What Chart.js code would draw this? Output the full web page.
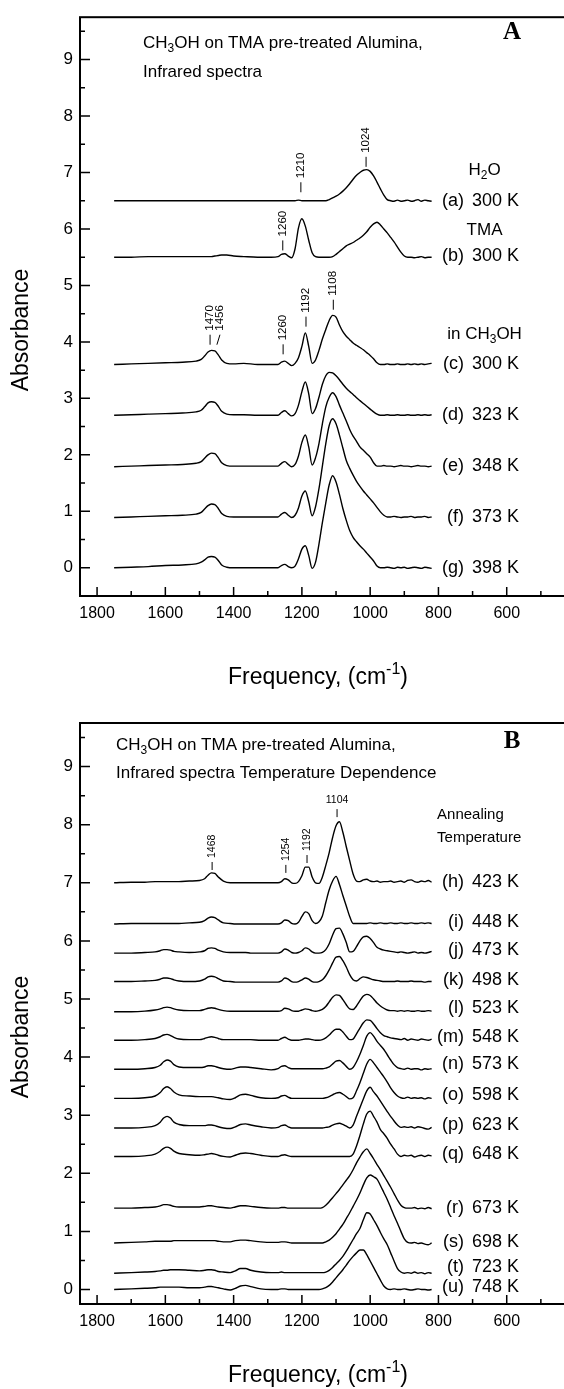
<!DOCTYPE html>
<html>
<head>
<meta charset="utf-8">
<script src="https://cdn.jsdelivr.net/npm/chart.js@4.4.0/dist/chart.umd.min.js"></script>
<style>
  html, body { margin: 0; padding: 0; background: #fff; overflow: hidden; }
  body { width: 564px; height: 1389px; position: relative; }
  .panel { position: absolute; left: 0; }
  #panelA { top: 0; }
  #panelB { top: 700px; }
</style>
</head>
<body>
<div class="panel" id="panelA"><canvas id="chartA" width="600" height="700"></canvas></div>
<div class="panel" id="panelB"><canvas id="chartB" width="600" height="689"></canvas></div>
<script>
// Axis ticks (cm-1 and absorbance)
const xTickValues = [1800, 1600, 1400, 1200, 1000, 800, 600];
const xMinorValues = [1700, 1500, 1300, 1100, 900, 700, 500];
const yTickValues = [0, 1, 2, 3, 4, 5, 6, 7, 8, 9];
const yMinorValues = [0.5, 1.5, 2.5, 3.5, 4.5, 5.5, 6.5, 7.5, 8.5, 9.5];

// ---- Panel A: frequency grid and spectra ----
const freqA = [1750, 1700, 1650, 1600, 1550, 1510, 1495, 1485, 1475, 1465, 1455, 1445, 1435, 1420, 1400, 1370, 1330, 1290,
  1270, 1260, 1250, 1240, 1230, 1220, 1210, 1200, 1190, 1180, 1170, 1160, 1150, 1140, 1130, 1120, 1110, 1100,
  1090, 1080, 1070, 1060, 1050, 1040, 1030, 1020, 1010, 1000, 990, 980, 970, 960, 950, 940, 930, 920, 910, 900,
  890, 880, 870, 860, 850, 840, 830, 820];

const specA_a = [6.5, 6.5, 6.5, 6.5, 6.5, 6.5, 6.5, 6.5, 6.5, 6.5, 6.5, 6.5, 6.5, 6.5, 6.5, 6.5, 6.5, 6.5,
  6.5, 6.5, 6.5, 6.5, 6.5, 6.5, 6.51, 6.5, 6.5, 6.5, 6.5, 6.5, 6.5, 6.5, 6.5, 6.52, 6.55, 6.58,
  6.62, 6.67, 6.73, 6.8, 6.88, 6.95, 7.0, 7.04, 7.05, 7.02, 6.94, 6.83, 6.71, 6.6, 6.52, 6.5, 6.49, 6.51, 6.49, 6.5,
  6.51, 6.49, 6.5, 6.52, 6.49, 6.51, 6.5, 6.49];
const specA_b = [5.5, 5.5, 5.51, 5.51, 5.51, 5.51, 5.51, 5.51, 5.51, 5.51, 5.52, 5.53, 5.54, 5.54, 5.52, 5.51, 5.5, 5.5,
  5.51, 5.55, 5.56, 5.52, 5.49, 5.65, 6.02, 6.18, 6.05, 5.8, 5.58, 5.51, 5.5, 5.5, 5.5, 5.5, 5.51, 5.55,
  5.6, 5.65, 5.7, 5.73, 5.76, 5.8, 5.84, 5.89, 5.95, 6.03, 6.09, 6.12, 6.07, 6.0, 5.93, 5.85, 5.77, 5.68, 5.59, 5.52,
  5.5, 5.5, 5.49, 5.5, 5.51, 5.49, 5.5, 5.5];
const specA_c = [3.6, 3.61, 3.62, 3.63, 3.64, 3.66, 3.69, 3.75, 3.82, 3.85, 3.84, 3.77, 3.68, 3.62, 3.61, 3.62, 3.6, 3.6,
  3.6, 3.64, 3.66, 3.62, 3.58, 3.62, 3.72, 3.92, 4.16, 3.92, 3.62, 3.68, 3.85, 4.05, 4.22, 4.38, 4.47, 4.44,
  4.3, 4.18, 4.1, 4.04, 3.98, 3.94, 3.9, 3.86, 3.81, 3.76, 3.7, 3.63, 3.6, 3.6, 3.61, 3.6, 3.6, 3.61, 3.6, 3.6,
  3.61, 3.6, 3.61, 3.6, 3.61, 3.6, 3.61, 3.62];
const specA_d = [2.7, 2.71, 2.72, 2.73, 2.74, 2.76, 2.79, 2.85, 2.92, 2.94, 2.93, 2.86, 2.77, 2.72, 2.71, 2.71, 2.7, 2.7,
  2.7, 2.75, 2.78, 2.73, 2.69, 2.73, 2.88, 3.12, 3.29, 3.08, 2.73, 2.82, 3.02, 3.25, 3.4, 3.46, 3.45, 3.4,
  3.33, 3.25, 3.18, 3.12, 3.07, 3.01, 2.96, 2.91, 2.86, 2.81, 2.76, 2.72, 2.7, 2.7, 2.71, 2.7, 2.7, 2.71, 2.7, 2.7,
  2.71, 2.7, 2.7, 2.71, 2.7, 2.71, 2.7, 2.71];
const specA_e = [1.79, 1.8, 1.81, 1.82, 1.83, 1.85, 1.88, 1.94, 2.0, 2.03, 2.02, 1.95, 1.86, 1.81, 1.8, 1.8, 1.8, 1.8,
  1.8, 1.85, 1.88, 1.83, 1.79, 1.83, 1.98, 2.22, 2.35, 2.14, 1.82, 1.95, 2.2, 2.55, 2.85, 3.02, 3.1, 3.03,
  2.88, 2.74, 2.6, 2.45, 2.33, 2.24, 2.14, 2.08, 2.02, 1.96, 1.86, 1.8, 1.8, 1.81, 1.8, 1.8, 1.79, 1.8, 1.81, 1.8,
  1.8, 1.79, 1.8, 1.81, 1.8, 1.8, 1.79, 1.8];
const specA_f = [0.89, 0.9, 0.91, 0.92, 0.93, 0.95, 0.98, 1.04, 1.1, 1.13, 1.12, 1.05, 0.96, 0.91, 0.9, 0.9, 0.9, 0.9,
  0.9, 0.95, 0.98, 0.93, 0.89, 0.93, 1.06, 1.27, 1.36, 1.17, 0.92, 1.08, 1.4, 1.8, 2.2, 2.52, 2.64, 2.55,
  2.35, 2.12, 1.9, 1.76, 1.64, 1.53, 1.44, 1.36, 1.29, 1.22, 1.15, 1.07, 0.99, 0.93, 0.9, 0.9, 0.91, 0.9, 0.89, 0.9,
  0.9, 0.91, 0.89, 0.9, 0.9, 0.91, 0.89, 0.9];
const specA_g = [0, 0.01, 0.02, 0.04, 0.05, 0.07, 0.1, 0.14, 0.19, 0.2, 0.19, 0.13, 0.05, 0.01, 0, 0, 0, 0,
  0, 0.04, 0.06, 0.02, 0, 0.03, 0.16, 0.33, 0.39, 0.22, -0.01, 0.1, 0.42, 0.8, 1.15, 1.47, 1.63, 1.52,
  1.3, 1.05, 0.84, 0.66, 0.54, 0.46, 0.39, 0.33, 0.26, 0.19, 0.12, 0.03, 0, 0, 0.01, 0, -0.01, 0.01, 0, 0.01,
  -0.01, 0, 0.01, 0, -0.01, 0.01, 0, -0.01];

const tagsA = ['(a)', '(b)', '(c)', '(d)', '(e)', '(f)', '(g)'];
const tempsA = ['300 K', '300 K', '300 K', '323 K', '348 K', '373 K', '398 K'];
const labelAbsA = [6.5, 5.52, 3.61, 2.71, 1.8, 0.9, 0];
const headerTextA = ['H_{2}O', 'TMA', 'in CH_{3}OH'];
const headerAbsA = [7.04, 5.98, 4.13];

const peakTextA = ['1210', '1024', '1260', '1470', '1456', '1260', '1192', '1108'];
const peakFreqA = [1203, 1012, 1256, 1469, 1449, 1255, 1188, 1108];
const peakTopFreqA = [1203, 1012, 1256, 1469, 1440, 1255, 1188, 1108];
const peakAbsA = [6.65, 7.1, 5.62, 3.95, 3.95, 3.78, 4.27, 4.57];

// ---- Panel B: frequency grid and spectra ----
const freqB = [1750, 1700, 1660, 1630, 1615, 1605, 1595, 1585, 1575, 1560,
  1530, 1500, 1485, 1475, 1465, 1455, 1445, 1430,
  1410, 1395, 1380, 1365, 1350, 1320, 1290,
  1270, 1260, 1250, 1240, 1230, 1220, 1210, 1200,
  1190, 1180, 1170, 1160, 1150, 1140, 1130, 1120,
  1110, 1100, 1090, 1080, 1070, 1060, 1050, 1040,
  1030, 1020, 1010, 1000, 990, 980, 970, 960,
  950, 940, 930, 920, 910, 900, 890, 880, 870, 860, 850, 840, 830, 820];

const specB_h = [7.0, 7.01, 7.01, 7.02, 7.02, 7.02, 7.02, 7.02, 7.02, 7.02,
  7.03, 7.04, 7.07, 7.13, 7.17, 7.16, 7.1, 7.03,
  7.0, 7.0, 7.0, 7.0, 7.0, 7.0, 7.0,
  7.0, 7.02, 7.07, 7.05, 7.0, 6.99, 7.02, 7.12,
  7.27, 7.27, 7.1, 7.0, 6.99, 7.1, 7.3, 7.52,
  7.78, 7.98, 8.05, 7.87, 7.62, 7.38, 7.15, 7.03,
  7.02, 7.05, 7.06, 7.03, 7.02, 7.03, 7.01, 7.02,
  7.02, 7.03, 7.01, 7.02, 7.03, 7.01, 7.04, 7.05, 7.02, 7.01, 7.03, 7.02, 7.04, 7.01];
const specB_i = [6.29, 6.3, 6.3, 6.3, 6.3, 6.3, 6.3, 6.3, 6.3, 6.3,
  6.31, 6.32, 6.35, 6.39, 6.41, 6.4, 6.36, 6.31,
  6.3, 6.29, 6.29, 6.29, 6.29, 6.29, 6.29,
  6.29, 6.31, 6.36, 6.35, 6.3, 6.29, 6.32, 6.42,
  6.5, 6.47, 6.35, 6.3, 6.33, 6.43, 6.66, 6.88,
  7.03, 7.11, 6.97, 6.78, 6.6, 6.42, 6.3, 6.3,
  6.3, 6.3, 6.3, 6.31, 6.3, 6.3, 6.31, 6.3,
  6.3, 6.31, 6.3, 6.3, 6.31, 6.3, 6.3, 6.31, 6.3, 6.3, 6.31, 6.3, 6.31, 6.3];
const specB_j = [5.79, 5.79, 5.8, 5.81, 5.83, 5.85, 5.85, 5.84, 5.82, 5.81,
  5.8, 5.81, 5.83, 5.87, 5.88, 5.87, 5.84, 5.81,
  5.8, 5.8, 5.8, 5.8, 5.79, 5.79, 5.79,
  5.79, 5.81, 5.86, 5.84, 5.8, 5.79, 5.8, 5.83,
  5.88, 5.86, 5.81, 5.79, 5.79, 5.8, 5.85, 5.95,
  6.1, 6.21, 6.22, 6.12, 5.97, 5.81, 5.82, 5.9,
  6.0, 6.07, 6.08, 6.04, 5.97, 5.89, 5.86, 5.84,
  5.83, 5.82, 5.81, 5.8, 5.81, 5.8, 5.79, 5.8, 5.81, 5.79, 5.8, 5.79, 5.8, 5.82];
const specB_k = [5.3, 5.3, 5.31, 5.32, 5.34, 5.36, 5.36, 5.35, 5.33, 5.31,
  5.3, 5.31, 5.34, 5.38, 5.39, 5.38, 5.35, 5.31,
  5.3, 5.29, 5.29, 5.29, 5.29, 5.29, 5.29,
  5.29, 5.31, 5.36, 5.34, 5.3, 5.29, 5.3, 5.33,
  5.36, 5.34, 5.3, 5.29, 5.3, 5.33, 5.4, 5.5,
  5.62, 5.72, 5.73, 5.66, 5.55, 5.42, 5.33, 5.31,
  5.35, 5.38, 5.37, 5.35, 5.33, 5.32, 5.31, 5.3,
  5.3, 5.3, 5.3, 5.31, 5.3, 5.3, 5.3, 5.31, 5.3, 5.3, 5.3, 5.29, 5.3, 5.3];
const specB_l = [4.78, 4.78, 4.79, 4.81, 4.83, 4.85, 4.86, 4.85, 4.83, 4.81,
  4.8, 4.8, 4.82, 4.84, 4.85, 4.84, 4.82, 4.8,
  4.79, 4.79, 4.79, 4.79, 4.79, 4.79, 4.79,
  4.79, 4.8, 4.84, 4.83, 4.8, 4.79, 4.79, 4.81,
  4.83, 4.82, 4.8, 4.79, 4.8, 4.82, 4.87, 4.95,
  5.03, 5.07, 5.06, 4.99, 4.9, 4.83, 4.82, 4.88,
  4.97, 5.05, 5.08, 5.06, 5.0, 4.93, 4.88, 4.84,
  4.81, 4.8, 4.8, 4.79, 4.8, 4.79, 4.8, 4.79, 4.79, 4.8, 4.79, 4.79, 4.8, 4.79];
const specB_m = [4.29, 4.29, 4.3, 4.32, 4.35, 4.38, 4.39, 4.37, 4.34, 4.31,
  4.3, 4.3, 4.32, 4.34, 4.35, 4.34, 4.32, 4.3,
  4.3, 4.3, 4.3, 4.3, 4.3, 4.29, 4.29,
  4.29, 4.32, 4.34, 4.31, 4.29, 4.29, 4.29, 4.3,
  4.31, 4.31, 4.3, 4.29, 4.29, 4.3, 4.33, 4.38,
  4.44, 4.48, 4.48, 4.43, 4.36, 4.3, 4.31, 4.4,
  4.5, 4.59, 4.64, 4.63, 4.57, 4.49, 4.42, 4.37,
  4.35, 4.33, 4.32, 4.31, 4.3, 4.32, 4.29, 4.31, 4.3, 4.29, 4.31, 4.3, 4.29, 4.31];
const specB_n = [3.79, 3.79, 3.8, 3.82, 3.86, 3.92, 3.95, 3.93, 3.87, 3.83,
  3.82, 3.82, 3.83, 3.85, 3.85, 3.84, 3.82, 3.8,
  3.79, 3.81, 3.83, 3.83, 3.82, 3.8, 3.78,
  3.8, 3.84, 3.85, 3.82, 3.8, 3.8, 3.8, 3.8,
  3.8, 3.8, 3.8, 3.8, 3.8, 3.8, 3.81, 3.83,
  3.88, 3.93, 3.94, 3.9, 3.84, 3.79, 3.82, 3.92,
  4.05, 4.2, 4.36, 4.42, 4.36, 4.27, 4.2, 4.13,
  4.04, 3.95, 3.87, 3.82, 3.8, 3.79, 3.81, 3.79, 3.8, 3.8, 3.78, 3.8, 3.79, 3.8];
const specB_o = [3.29, 3.29, 3.3, 3.33, 3.39, 3.46, 3.49, 3.46, 3.4, 3.35,
  3.33, 3.32, 3.32, 3.32, 3.32, 3.31, 3.3, 3.28,
  3.27, 3.3, 3.35, 3.36, 3.34, 3.3, 3.29,
  3.3, 3.33, 3.34, 3.31, 3.29, 3.29, 3.29, 3.29,
  3.29, 3.29, 3.29, 3.29, 3.29, 3.29, 3.3, 3.32,
  3.35, 3.38, 3.39, 3.36, 3.32, 3.28, 3.3, 3.42,
  3.56, 3.72, 3.88, 3.96, 3.9, 3.82, 3.74, 3.66,
  3.57, 3.47, 3.39, 3.33, 3.3, 3.29, 3.31, 3.29, 3.3, 3.29, 3.3, 3.28, 3.3, 3.29];
const specB_p = [2.78, 2.78, 2.79, 2.82, 2.88, 2.95, 2.98, 2.95, 2.88, 2.84,
  2.82, 2.82, 2.82, 2.83, 2.83, 2.82, 2.8, 2.78,
  2.77, 2.8, 2.84, 2.85, 2.83, 2.8, 2.78,
  2.79, 2.82, 2.83, 2.8, 2.78, 2.78, 2.78, 2.78,
  2.78, 2.78, 2.78, 2.78, 2.78, 2.78, 2.79, 2.8,
  2.83, 2.85, 2.86, 2.84, 2.81, 2.78, 2.83, 2.98,
  3.13, 3.28, 3.42, 3.48, 3.4, 3.33, 3.24, 3.15,
  3.06, 2.98, 2.9, 2.83, 2.79, 2.8, 2.79, 2.8, 2.78, 2.8, 2.79, 2.77, 2.76, 2.79];
const specB_q = [2.29, 2.29, 2.3, 2.33, 2.38, 2.43, 2.45, 2.43, 2.38, 2.34,
  2.32, 2.31, 2.32, 2.33, 2.34, 2.33, 2.31, 2.29,
  2.28, 2.31, 2.34, 2.35, 2.34, 2.31, 2.29,
  2.29, 2.31, 2.32, 2.3, 2.29, 2.29, 2.29, 2.29,
  2.29, 2.29, 2.29, 2.29, 2.29, 2.29, 2.29, 2.29,
  2.29, 2.29, 2.29, 2.29, 2.29, 2.29, 2.33, 2.47,
  2.65, 2.85, 3.02, 3.07, 2.98, 2.88, 2.75, 2.68,
  2.6, 2.5, 2.42, 2.33, 2.29, 2.31, 2.3, 2.31, 2.28, 2.3, 2.31, 2.29, 2.31, 2.3];
const specB_r = [1.4, 1.4, 1.41, 1.42, 1.44, 1.46, 1.46, 1.45, 1.43, 1.42,
  1.42, 1.42, 1.43, 1.44, 1.44, 1.43, 1.42, 1.41,
  1.4, 1.42, 1.44, 1.44, 1.43, 1.41, 1.4,
  1.4, 1.41, 1.41, 1.4, 1.4, 1.4, 1.4, 1.4,
  1.4, 1.4, 1.4, 1.4, 1.4, 1.41, 1.45, 1.51,
  1.58, 1.65, 1.72, 1.8, 1.88, 1.96, 2.06, 2.18,
  2.28, 2.37, 2.42, 2.34, 2.25, 2.15, 2.06, 1.96,
  1.86, 1.76, 1.65, 1.54, 1.45, 1.41, 1.4, 1.4, 1.41, 1.39, 1.4, 1.39, 1.41, 1.39];
const specB_s = [0.8, 0.81, 0.82, 0.83, 0.83, 0.83, 0.83, 0.83, 0.84, 0.84,
  0.84, 0.84, 0.84, 0.84, 0.84, 0.84, 0.83, 0.82,
  0.82, 0.84, 0.85, 0.85, 0.84, 0.82, 0.81,
  0.81, 0.82, 0.82, 0.81, 0.8, 0.8, 0.8, 0.8,
  0.8, 0.8, 0.8, 0.8, 0.8, 0.8, 0.82, 0.85,
  0.9, 0.96, 1.04, 1.12, 1.22, 1.32, 1.43, 1.54,
  1.66, 1.8, 1.92, 1.97, 1.94, 1.9, 1.79, 1.67,
  1.55, 1.41, 1.27, 1.14, 1.0, 0.87, 0.81, 0.8, 0.81, 0.79, 0.8, 0.78, 0.77, 0.8];
const specB_t = [0.28, 0.29, 0.3, 0.31, 0.32, 0.33, 0.33, 0.34, 0.34, 0.34,
  0.33, 0.32, 0.33, 0.34, 0.34, 0.33, 0.31, 0.3,
  0.29, 0.32, 0.36, 0.36, 0.33, 0.3, 0.29,
  0.29, 0.3, 0.29, 0.29, 0.29, 0.29, 0.29, 0.29,
  0.29, 0.29, 0.29, 0.29, 0.29, 0.29, 0.3, 0.33,
  0.38, 0.44, 0.5, 0.57, 0.66, 0.76, 0.86, 0.96,
  1.05, 1.2, 1.32, 1.3, 1.2, 1.1, 0.98, 0.87,
  0.77, 0.63, 0.49, 0.36, 0.3, 0.28, 0.29, 0.28, 0.3, 0.28, 0.29, 0.27, 0.29, 0.28];
const specB_u = [0, 0.01, 0.02, 0.03, 0.04, 0.04, 0.04, 0.04, 0.04, 0.04,
  0.03, 0.03, 0.04, 0.05, 0.05, 0.04, 0.03, 0.01,
  -0.01, 0.02, 0.06, 0.07, 0.05, 0.01, 0,
  0, 0.01, 0.01, 0, 0, 0, 0, 0,
  0, 0, 0, 0, 0, 0.01, 0.03, 0.07,
  0.13, 0.2, 0.27, 0.34, 0.42, 0.5, 0.57, 0.63,
  0.68, 0.68, 0.6, 0.49, 0.38, 0.27, 0.16, 0.06,
  0.01, 0, 0.01, 0, 0, 0.01, 0, -0.01, 0, 0.01, 0, 0, -0.01, 0];

const tagsB = ['(h)', '(i)', '(j)', '(k)', '(l)', '(m)', '(n)', '(o)', '(p)', '(q)', '(r)', '(s)', '(t)', '(u)'];
const tempsB = ['423 K', '448 K', '473 K', '498 K', '523 K', '548 K', '573 K', '598 K', '623 K', '648 K', '673 K', '698 K', '723 K', '748 K'];
const labelAbsB = [7.02, 6.32, 5.85, 5.32, 4.84, 4.34, 3.88, 3.34, 2.83, 2.33, 1.41, 0.81, 0.38, 0.04];
const headerTextB = ['Annealing', 'Temperature'];
const headerAbsB = [8.17, 7.77];

const peakTextB = ['1104', '1468', '1254', '1192'];
const peakFreqB = [1097, 1463, 1247, 1185];
const peakTopFreqB = [1097, 1463, 1247, 1185];
const peakAbsB = [8.13, 7.22, 7.17, 7.34];
const peakFlatB = [true, false, false, false];

const FONT = '"Liberation Sans", Arial, sans-serif';
Chart.defaults.font.family = FONT;
Chart.defaults.color = '#000';

// split "CH_{3}OH" / "cm^{-1}" into plain, sub and super runs
function richParts(str) {
  const parts = [];
  const re = /([_^])\{([^}]*)\}/g;
  let last = 0, m;
  while ((m = re.exec(str))) {
    if (m.index > last) parts.push({ t: str.slice(last, m.index), s: 0 });
    parts.push({ t: m[2], s: m[1] === '_' ? 1 : -1 });
    last = re.lastIndex;
  }
  if (last < str.length) parts.push({ t: str.slice(last), s: 0 });
  return parts;
}

function drawRich(ctx, str, x, y, size, align, rotate) {
  const parts = richParts(str);
  const small = Math.round(size * 0.68);
  let w = 0;
  parts.forEach(p => {
    ctx.font = (p.s ? small : size) + 'px ' + FONT;
    p.w = ctx.measureText(p.t).width;
    w += p.w;
  });
  ctx.save();
  ctx.translate(x, y);
  if (rotate) ctx.rotate(rotate);
  ctx.textAlign = 'left';
  ctx.textBaseline = 'middle';
  let cx = align === 'center' ? -w / 2 : align === 'right' ? -w : 0;
  parts.forEach(p => {
    ctx.font = (p.s ? small : size) + 'px ' + FONT;
    const dy = p.s === 1 ? size * 0.32 : p.s === -1 ? -size * 0.36 : 0;
    ctx.fillText(p.t, cx, dy);
    cx += p.w;
  });
  ctx.restore();
}

function overlay(cfg) {
  return {
    id: 'overlay',
    afterDraw(chart) {
      const { ctx, chartArea: a } = chart;
      const x = chart.scales.x, y = chart.scales.y;
      ctx.save();
      ctx.fillStyle = '#000';
      ctx.strokeStyle = '#000';

      // frame
      ctx.lineWidth = 2;
      ctx.strokeRect(a.left, a.top, a.right - a.left, a.bottom - a.top);

      // inward tick marks
      ctx.lineWidth = 1.5;
      ctx.beginPath();
      xTickValues.forEach(v => { const p = x.getPixelForValue(v); ctx.moveTo(p, a.bottom); ctx.lineTo(p, a.bottom - 9); });
      xMinorValues.forEach(v => { const p = x.getPixelForValue(v); ctx.moveTo(p, a.bottom); ctx.lineTo(p, a.bottom - 5); });
      yTickValues.forEach(v => { const p = y.getPixelForValue(v); ctx.moveTo(a.left, p); ctx.lineTo(a.left + 10, p); });
      yMinorValues.forEach(v => { const p = y.getPixelForValue(v); ctx.moveTo(a.left, p); ctx.lineTo(a.left + 5, p); });
      ctx.stroke();

      // peak position marks
      ctx.lineWidth = 1;
      cfg.peakText.forEach((t, i) => {
        const xb = x.getPixelForValue(cfg.peakFreq[i]);
        const xt = x.getPixelForValue(cfg.peakTopFreq[i]);
        const yb = y.getPixelForValue(cfg.peakAbs[i]);
        ctx.beginPath();
        ctx.moveTo(xb, yb);
        ctx.lineTo(xt, yb - cfg.peakTick);
        ctx.stroke();
        if (cfg.peakFlat && cfg.peakFlat[i]) {
          drawRich(ctx, t, xt, yb - cfg.peakTick - 9, cfg.peakSize, 'center');
        } else {
          drawRich(ctx, t, xt, yb - cfg.peakTick - 4, cfg.peakSize, 'left', -Math.PI / 2);
        }
      });

      // trace labels
      cfg.tags.forEach((t, i) => {
        const py = y.getPixelForValue(cfg.labelAbs[i]);
        drawRich(ctx, t, x.getPixelForValue(725), py, 18, 'right');
        drawRich(ctx, cfg.temps[i], x.getPixelForValue(702), py, 18, 'left');
      });
      cfg.headers.forEach((t, i) => {
        drawRich(ctx, t, x.getPixelForValue(cfg.headerFreq), y.getPixelForValue(cfg.headerAbs[i]),
          cfg.headerSize, cfg.headerAlign);
      });

      // titles
      cfg.titles.forEach(tl => drawRich(ctx, tl.text, tl.x, tl.y, 17, 'left'));
      ctx.font = 'bold 25px "Liberation Serif", serif';
      ctx.textAlign = 'center';
      ctx.textBaseline = 'middle';
      ctx.fillText(cfg.letter.text, cfg.letter.x, cfg.letter.y);

      drawRich(ctx, 'Absorbance', cfg.yTitle.x, cfg.yTitle.y, 23, 'center', -Math.PI / 2);
      drawRich(ctx, 'Frequency, (cm^{-1})', cfg.xTitle.x, cfg.xTitle.y, 23, 'center');
      ctx.restore();
    }
  };
}

function makeChart(id, freq, series, yMin, topPad, xAxisH, cfg) {
  const datasets = series.map(vals => ({
    data: freq.map((f, i) => ({ x: f, y: vals[i] })),
    borderColor: '#000',
    borderWidth: 1.4,
    pointRadius: 0,
    fill: false,
    cubicInterpolationMode: 'monotone'
  }));
  return new Chart(document.getElementById(id), {
    type: 'line',
    data: { datasets },
    options: {
      responsive: false,
      animation: false,
      layout: { padding: { top: topPad, right: 25, left: 0, bottom: 0 } },
      plugins: { legend: { display: false }, tooltip: { enabled: false } },
      scales: {
        x: {
          type: 'linear', reverse: true, min: 400, max: 1850,
          grid: { display: false, drawTicks: false },
          border: { display: false },
          ticks: { color: '#000', font: { size: 16 }, padding: 8, autoSkip: false, maxRotation: 0, callback: v => String(v) },
          afterBuildTicks: s => { s.ticks = xTickValues.map(v => ({ value: v })); },
          afterFit: s => { s.height = xAxisH; }
        },
        y: {
          type: 'linear', min: yMin, max: 9.75,
          grid: { display: false, drawTicks: false },
          border: { display: false },
          ticks: { color: '#000', font: { size: 17 }, padding: 7, callback: v => String(v) },
          afterBuildTicks: s => { s.ticks = yTickValues.map(v => ({ value: v })); },
          afterFit: s => { s.width = 80; }
        }
      }
    },
    plugins: [overlay(cfg)]
  });
}

makeChart('chartA', freqA, [specA_a, specA_b, specA_c, specA_d, specA_e, specA_f, specA_g], -0.5, 14, 104, {
  peakText: peakTextA, peakFreq: peakFreqA, peakTopFreq: peakTopFreqA, peakAbs: peakAbsA,
  peakTick: 10, peakSize: 11.5,
  tags: tagsA, temps: tempsA, labelAbs: labelAbsA,
  headers: headerTextA, headerAbs: headerAbsA, headerFreq: 665, headerSize: 17, headerAlign: 'center',
  titles: [{ text: 'CH_{3}OH on TMA pre-treated Alumina,', x: 143, y: 43 }, { text: 'Infrared spectra', x: 143, y: 72 }],
  letter: { text: 'A', x: 512, y: 33 },
  yTitle: { x: 22, y: 330 },
  xTitle: { x: 318, y: 678 }
});

makeChart('chartB', freqB, [specB_h, specB_i, specB_j, specB_k, specB_l, specB_m, specB_n,
  specB_o, specB_p, specB_q, specB_r, specB_s, specB_t, specB_u], -0.25, 23, 85, {
  peakText: peakTextB, peakFreq: peakFreqB, peakTopFreq: peakTopFreqB, peakAbs: peakAbsB, peakFlat: peakFlatB,
  peakTick: 8, peakSize: 10.5,
  tags: tagsB, temps: tempsB, labelAbs: labelAbsB,
  headers: headerTextB, headerAbs: headerAbsB, headerFreq: 804, headerSize: 15, headerAlign: 'left',
  titles: [{ text: 'CH_{3}OH on TMA pre-treated Alumina,', x: 116, y: 45 }, { text: 'Infrared spectra Temperature Dependence', x: 116, y: 73 }],
  letter: { text: 'B', x: 512, y: 42 },
  yTitle: { x: 22, y: 337 },
  xTitle: { x: 318, y: 676 }
});
</script>
</body>
</html>
